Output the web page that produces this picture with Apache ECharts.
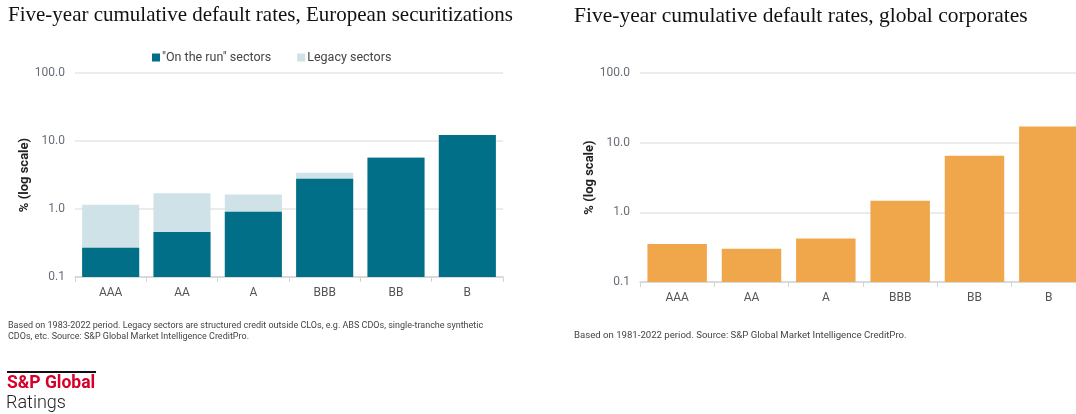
<!DOCTYPE html>
<html>
<head>
<meta charset="utf-8">
<script src="https://cdn.jsdelivr.net/npm/echarts@6/dist/echarts.min.js"></script>
<style>
  html, body { margin: 0; padding: 0; background: #fff; overflow: hidden; }
  #chart { width: 1076px; height: 414px; }
</style>
</head>
<body>
<div id="chart"></div>
<script>
// Rating categories shared by both panels
const ratings = ['AAA', 'AA', 'A', 'BBB', 'BB', 'B'];

// European securitizations: "on the run" sectors and the additional legacy share (%)
const onTheRun = [0.27, 0.46, 0.91, 2.79, 5.69, 12.3];
const legacyExtra = [0.88, 1.24, 0.73, 0.63, 0.11, 0];

// Global corporates (%)
const corporates = [0.35, 0.30, 0.42, 1.47, 6.5, 17.0];

// Log-axis tick labels, one per decade from the 0.1 floor
const logTicks = ['0.1', '1.0', '10.0', '100.0'];

const teal = '#006f87';
const legacyColor = '#cfe2e7';
const orange = '#f0a74b';
const sans = 'Roboto, "Noto Sans", sans-serif';
const serif = '"Liberation Serif", "DejaVu Serif", serif';

// Bars are plotted as decades above the 0.1% floor so they rise from the axis bottom
const FLOOR = 0.1;
const toDecades = arr => arr.map(v => Math.log10(v / FLOOR));
const allSectors = onTheRun.map((v, i) => v + legacyExtra[i]);

function yAxis(gridIndex, nameGap) {
  return {
    type: 'value', min: 0, max: 3, interval: 1, gridIndex,
    name: '% (log scale)', nameLocation: 'middle', nameGap, nameRotate: 90,
    nameTextStyle: { fontFamily: sans, fontSize: 13, fontWeight: 'bold', color: '#222' },
    axisLine: { show: false }, axisTick: { show: false },
    axisLabel: {
      fontFamily: sans, fontSize: 12, color: '#676d77', margin: 10,
      formatter: v => logTicks[Math.round(v)]
    },
    splitLine: { lineStyle: { color: '#e6e6e6', width: 1.5 } }
  };
}

function xAxis(gridIndex) {
  return {
    type: 'category', data: ratings, gridIndex,
    axisLine: { lineStyle: { color: '#d4d4d4', width: 1.5 } },
    axisTick: { show: true, length: 5, lineStyle: { color: '#d4d4d4' } },
    axisLabel: { fontFamily: sans, fontSize: 12, color: '#555', margin: 10 }
  };
}

const chart = echarts.init(document.getElementById('chart'), null, { renderer: 'canvas' });
chart.setOption({
  animation: false,
  title: [
    { text: 'Five-year cumulative default rates, European securitizations', left: 8, top: 5, padding: 0,
      textStyle: { fontFamily: serif, fontSize: 21, fontWeight: 'normal', color: '#111' } },
    { text: 'Five-year cumulative default rates, global corporates', left: 574, top: 5, padding: 0,
      textStyle: { fontFamily: serif, fontSize: 21.5, fontWeight: 'normal', color: '#111' } },
    { text: 'Based on 1983-2022 period. Legacy sectors are structured credit outside CLOs, e.g. ABS CDOs, single-tranche synthetic\nCDOs, etc. Source: S&P Global Market Intelligence CreditPro.',
      left: 8, top: 320, padding: 0,
      textStyle: { fontFamily: sans, fontSize: 9, fontWeight: 'normal', color: '#444', lineHeight: 11 } },
    { text: 'Based on 1981-2022 period. Source: S&P Global Market Intelligence CreditPro.',
      left: 574, top: 331, padding: 0,
      textStyle: { fontFamily: sans, fontSize: 9.6, fontWeight: 'normal', color: '#444' } }
  ],
  legend: {
    left: 147, top: 46, itemWidth: 8, itemHeight: 8, itemGap: 26, icon: 'rect',
    data: ['"On the run" sectors', 'Legacy sectors'],
    textStyle: { fontFamily: sans, fontSize: 12.5, color: '#444', padding: [0, 0, 0, -3] }
  },
  grid: [
    { left: 75, top: 73, width: 428, height: 204, outerBoundsMode: 'none', containLabel: false },
    { left: 640, top: 73, width: 446, height: 209, outerBoundsMode: 'none', containLabel: false }
  ],
  xAxis: [xAxis(0), xAxis(1)],
  yAxis: [yAxis(0, 41), yAxis(1, 42)],
  series: [
    // Total including legacy sectors sits behind the "on the run" bar
    { name: 'Legacy sectors', type: 'bar', xAxisIndex: 0, yAxisIndex: 0,
      data: toDecades(allSectors), barCategoryGap: '20%', barGap: '-100%', itemStyle: { color: legacyColor } },
    { name: '"On the run" sectors', type: 'bar', xAxisIndex: 0, yAxisIndex: 0,
      data: toDecades(onTheRun), barCategoryGap: '20%', barGap: '-100%', itemStyle: { color: teal } },
    { name: 'Global corporates', type: 'bar', xAxisIndex: 1, yAxisIndex: 1,
      data: toDecades(corporates), barCategoryGap: '20%', itemStyle: { color: orange } }
  ],
  graphic: [
    { type: 'rect', left: 7, top: 371, shape: { width: 89, height: 2 }, style: { fill: '#111' } },
    { type: 'text', left: 7, top: 375,
      style: { text: 'S&P Global', fill: '#d6002a', font: 'bold 17.5px ' + sans } },
    { type: 'text', left: 6, top: 394,
      style: { text: 'Ratings', fill: '#222', font: '300 18px ' + sans } }
  ]
});
</script>
</body>
</html>
